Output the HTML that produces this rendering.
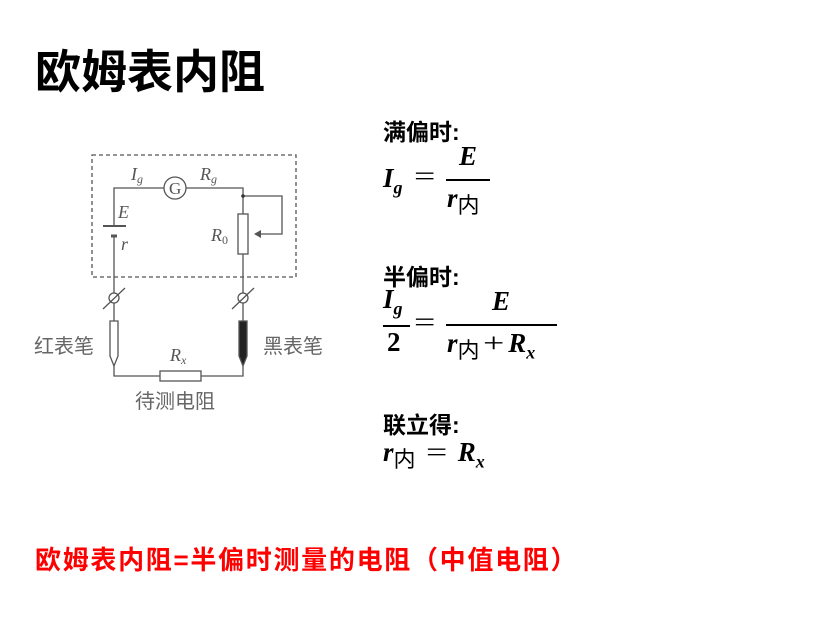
<!DOCTYPE html>
<html><head><meta charset="utf-8"><style>
body{margin:0;width:837px;height:621px;background:#fff;position:relative;overflow:hidden;font-family:"Liberation Sans","Noto Sans CJK SC",sans-serif}
.a{position:absolute;white-space:nowrap}
.h{font-weight:bold;font-size:23px;color:#000}
.m{font-family:"Liberation Serif","Noto Serif CJK SC",serif;font-weight:bold;font-style:italic;font-size:27px}
.c{font-family:"Liberation Sans","Noto Sans CJK SC",sans-serif;font-style:normal;font-weight:normal;font-size:22px}
.ln{position:absolute;height:2px;background:#000}
.eq{font-style:normal;font-weight:normal;transform:scaleX(1.4);display:inline-block}
</style></head><body>
<div class="a" style="left:35px;top:43px;font-size:46px;font-weight:bold;line-height:58px">欧姆表内阻</div>

<svg class="a" style="left:0;top:0" width="837" height="621">
<g stroke="#555" stroke-width="1.3" fill="none">
<rect x="92" y="155" width="204" height="122" stroke-dasharray="4,3"/>
<polyline points="114,226 114,188 164,188"/>
<polyline points="186,188 243,188 243,214"/>
<circle cx="175" cy="188" r="11" fill="#fff"/>
<polyline points="243,196 282,196 282,234 256,234"/>
<rect x="238" y="214" width="10" height="40" fill="#fff"/>
<line x1="243" y1="254" x2="243" y2="293"/>
<line x1="114" y1="236" x2="114" y2="293"/>
<line x1="103" y1="226" x2="126" y2="226" stroke-width="2"/>
<line x1="111" y1="236" x2="117" y2="236" stroke-width="3"/>
<circle cx="114" cy="298" r="5"/><circle cx="243" cy="298" r="5"/>
<line x1="103" y1="309" x2="125" y2="288"/><line x1="232" y1="309" x2="254" y2="288"/>
<line x1="114" y1="303" x2="114" y2="321"/><line x1="243" y1="303" x2="243" y2="321"/>
<path d="M110,321 H118 V356 L114,366 L110,356 Z" fill="#fff"/>
<path d="M239,321 H247 V356 L243,366 L239,356 Z" fill="#222"/>
<polyline points="114,366 114,376 160,376"/>
<polyline points="201,376 243,376 243,366"/>
<rect x="160" y="371" width="41" height="10" fill="#fff"/>
</g>
<polygon points="254,234 261,230 261,238" fill="#555"/>
<circle cx="243" cy="196" r="1.8" fill="#333"/>
<g font-family="Liberation Serif,serif" fill="#555" font-size="18">
<text x="169" y="194" font-style="normal" font-size="17">G</text>
<text x="131" y="180" font-style="italic">I<tspan font-size="12" dy="3">g</tspan></text>
<text x="200" y="180" font-style="italic">R<tspan font-size="12" dy="3">g</tspan></text>
<text x="118" y="218" font-style="italic">E</text>
<text x="121" y="250" font-style="italic">r</text>
<text x="211" y="241" font-style="italic">R<tspan font-size="12" dy="3" font-style="normal">0</tspan></text>
<text x="170" y="361" font-style="italic">R<tspan font-size="12" dy="3">x</tspan></text>
</g>
<g font-family="Liberation Sans,Noto Sans CJK SC,sans-serif" fill="#666" font-size="20">
<text x="34" y="353">红表笔</text>
<text x="263" y="353">黑表笔</text>
<text x="135" y="408">待测电阻</text>
</g>
</svg>

<div class="a h" style="left:383px;top:113px">满偏时:</div>
<div class="a m" style="left:383px;top:163px">I<sub style="font-size:18px">g</sub></div>
<div class="a m" style="left:417px;top:161px"><span class="eq">=</span></div>
<div class="a m" style="left:459px;top:141px">E</div>
<div class="ln" style="left:446px;top:179px;width:44px"></div>
<div class="a m" style="left:447px;top:182px">r<span class="c" style="position:relative;top:6px">内</span></div>

<div class="a h" style="left:383px;top:258px">半偏时:</div>
<div class="a m" style="left:383px;top:284px">I<sub style="font-size:18px">g</sub></div>
<div class="ln" style="left:383px;top:325px;width:27px"></div>
<div class="a m" style="left:387px;top:327px;font-style:normal">2</div>
<div class="a m" style="left:417px;top:307px"><span class="eq">=</span></div>
<div class="a m" style="left:492px;top:286px">E</div>
<div class="ln" style="left:446px;top:324px;width:111px"></div>
<div class="a m" style="left:447px;top:327px">r<span class="c" style="position:relative;top:6px">内</span>&nbsp;<span class="eq">+</span>&nbsp;R<sub style="font-size:18px">x</sub></div>

<div class="a h" style="left:383px;top:406px">联立得:</div>
<div class="a m" style="left:383px;top:436px">r<span class="c" style="position:relative;top:6px">内</span>&nbsp;&nbsp;<span class="eq">=</span>&nbsp;&nbsp;R<sub style="font-size:18px">x</sub></div>

<div class="a" style="left:35px;top:540px;font-size:26px;font-weight:bold;color:#f00;letter-spacing:1.7px">欧姆表内阻=半偏时测量的电阻（中值电阻）</div>
</body></html>
